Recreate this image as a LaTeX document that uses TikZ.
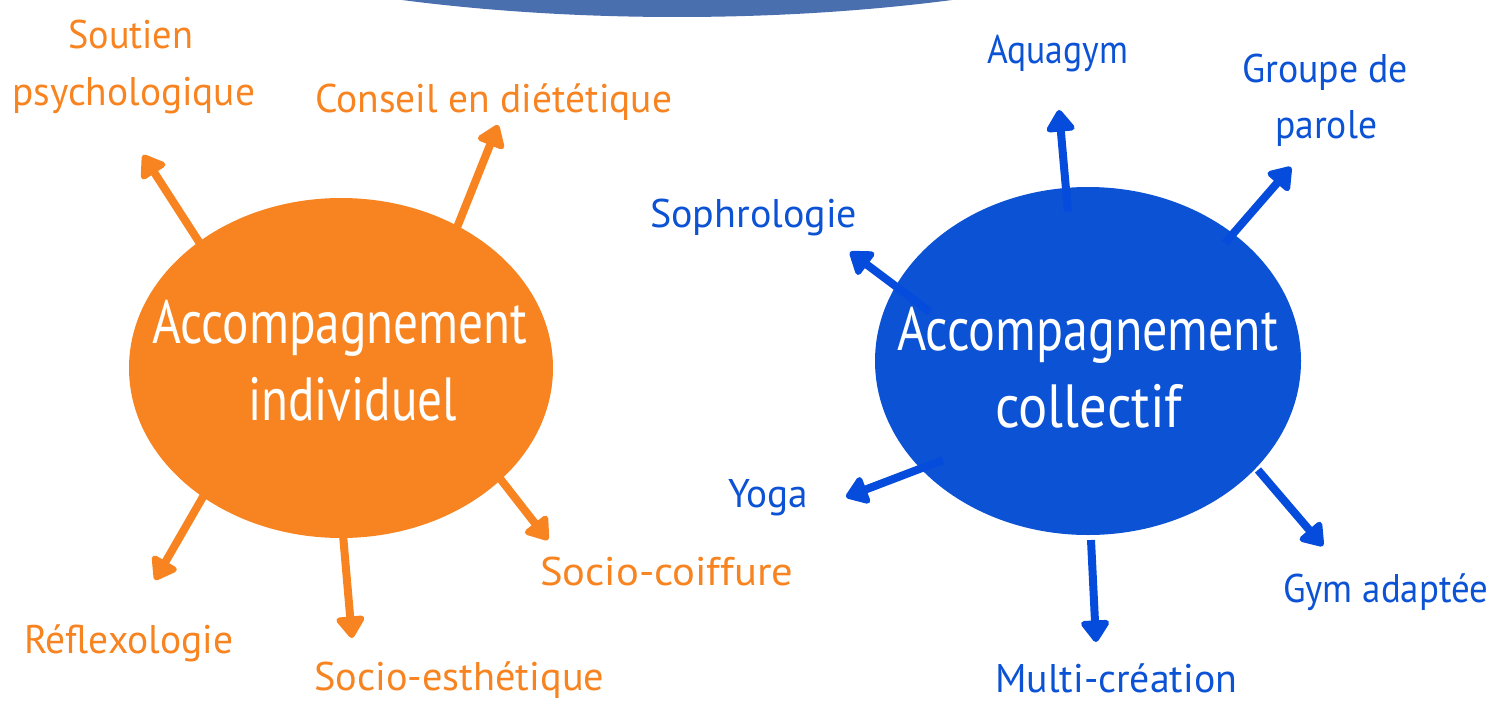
\documentclass[tikz,border=0pt]{standalone}
\usepackage{fontspec}
\setmainfont{PT Sans}
\usetikzlibrary{arrows.meta,shapes.geometric}
\definecolor{orng}{RGB}{247,132,32}
\definecolor{blu}{RGB}{12,82,212}
\definecolor{bluarr}{RGB}{5,76,220}
\definecolor{topblue}{RGB}{74,111,174}
\newlength\fitlen
\newcommand\fitx[2]{\settowidth\fitlen{#2}\pgfmathsetmacro\fitr{#1/\fitlen}\scalebox{\fitr}[1]{#2}}
\tikzset{
  lbl/.style={anchor=base west,inner sep=0pt,font=\fontsize{40}{40}\selectfont},
  big/.style={anchor=base west,inner sep=0pt,font=\fontsize{61}{61}\selectfont,text=white},
  oarr/.style={draw=orng,line width=8pt,-{Triangle[length=24pt,width=32pt,round]}},
  barr/.style={draw=bluarr,line width=8pt,-{Triangle[length=24pt,width=32pt,round]}},
}
\begin{document}
\begin{tikzpicture}[x=1pt,y=-1pt]
\useasboundingbox (0,0) rectangle (1492,704);
\begin{scope}
\clip (0,0) rectangle (1492,704);
\fill[topblue] (677,-195) ellipse [x radius=700,y radius=212];
\end{scope}
% orange arrows (behind)
\coordinate (o1a) at (230,290); \coordinate (o1b) at (143,155);
\coordinate (o2a) at (440,270); \coordinate (o2b) at (498,125);
\coordinate (o3a) at (230,450); \coordinate (o3b) at (155,580);
\coordinate (o4a) at (340,500); \coordinate (o4b) at (352,638);
\coordinate (o5a) at (470,440); \coordinate (o5b) at (548,540);
\draw[oarr] (o1a) -- (o1b);
\draw[oarr] (o2a) -- (o2b);
\draw[oarr] (o3a) -- (o3b);
\draw[oarr] (o4a) -- (o4b);
\draw[oarr] (o5a) -- (o5b);
\node[fill=orng,ellipse,draw=none,minimum width=424pt,minimum height=340pt,inner sep=0pt] (ind) at (341,368) {};
\node[fill=blu,ellipse,draw=none,minimum width=426pt,minimum height=348pt,inner sep=0pt] (col) at (1088,361) {};
% blue arrows (on top)
\coordinate (b1a) at (1068,212); \coordinate (b1b) at (1059,110);
\coordinate (b2a) at (1225,243); \coordinate (b2b) at (1291,167);
\coordinate (b3a) at (930,312); \coordinate (b3b) at (850,252);
\coordinate (b4a) at (943,460); \coordinate (b4b) at (846,497);
\coordinate (b5a) at (1091,540); \coordinate (b5b) at (1096,642);
\coordinate (b6a) at (1258,470); \coordinate (b6b) at (1323,546);
\draw[barr] (b1a) -- (b1b);
\draw[barr] (b2a) -- (b2b);
\draw[barr] (b3a) -- (b3b);
\draw[barr] (b4a) -- (b4b);
\draw[barr] (b5a) -- (b5b);
\draw[barr] (b6a) -- (b6b);
% ellipse texts
\node[big] (t1) at (152,343) {\fitx{375}{Accompagnement}};
\node[big] (t2) at (248,420) {\fitx{209}{individuel}};
\node[big] (t3) at (897,350) {\fitx{381}{Accompagnement}};
\node[big] (t4) at (995,427) {\fitx{187}{collectif}};
% orange labels
\node[lbl,text=orng] (l1) at (68,48) {\fitx{125}{Soutien}};
\node[lbl,text=orng] (l2) at (12,105) {\fitx{243}{psychologique}};
\node[lbl,text=orng] (l3) at (315,112) {\fitx{357}{Conseil en diététique}};
\node[lbl,text=orng] (l4) at (24,653) {\fitx{209}{Réflexologie}};
\node[lbl,text=orng] (l5) at (314,690) {\fitx{290}{Socio-esthétique}};
\node[lbl,text=orng] (l6) at (540,585) {\fitx{253}{Socio-coiffure}};
% blue labels
\node[lbl,text=blu] (m1) at (987,63) {\fitx{141}{Aquagym}};
\node[lbl,text=blu] (m2) at (1242,82) {\fitx{166}{Groupe de}};
\node[lbl,text=blu] (m3) at (1275,138) {\fitx{102}{parole}};
\node[lbl,text=blu] (m4) at (650,227) {\fitx{207}{Sophrologie}};
\node[lbl,text=blu] (m5) at (728,507) {\fitx{80}{Yoga}};
\node[lbl,text=blu] (m6) at (995,692) {\fitx{242}{Multi-création}};
\node[lbl,text=blu] (m7) at (1283,602) {\fitx{205}{Gym adaptée}};
\end{tikzpicture}
\end{document}
